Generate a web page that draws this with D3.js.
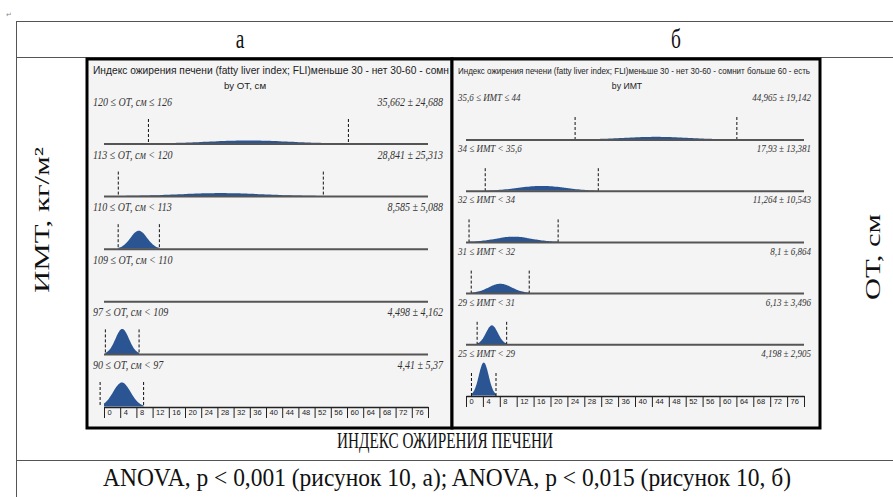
<!DOCTYPE html>
<html>
<head>
<meta charset="utf-8">
<script src="https://cdn.jsdelivr.net/npm/d3@7"></script>
<style>
  body { margin: 0; background: #fff; }
  svg { display: block; }
</style>
</head>
<body>
<div id="chart"></div>
<script>
// ---- data ----
const columnHeaders = ["а", "б"];
const rowLabelLeft = "ИМТ, кг/м²";
const rowLabelRight = "ОТ, см";
const bottomTitle = "ИНДЕКС ОЖИРЕНИЯ ПЕЧЕНИ";
const footNote = "ANOVA, p < 0,001 (рисунок 10, а);  ANOVA, p < 0,015 (рисунок 10, б)";
// left panel title is cut by the panel edge in the source
const panelTitleA = "Индекс ожирения печени (fatty liver index; FLI)меньше 30 - нет 30-60 - сомн";
const panelTitleB = "Индекс ожирения печени (fatty liver index; FLI)меньше 30 - нет 30-60 - сомнит больше 60 - есть";
const panelSubA = "by ОТ, см";
const panelSubB = "by ИМТ";

const groupsA = ["120 ≤ ОТ, см ≤ 126", "113 ≤ ОТ, см < 120", "110 ≤ ОТ, см < 113", "109 ≤ ОТ, см < 110", "97 ≤ ОТ, см < 109", "90 ≤ ОТ, см < 97"];
const meansA = [35.662, 28.841, 8.585, null, 4.498, 4.41];
const sdsA = [24.688, 25.313, 5.088, null, 4.162, 5.37];
const statsA = ["35,662 ± 24,688", "28,841 ± 25,313", "8,585 ± 5,088", "", "4,498 ± 4,162", "4,41 ± 5,37"];
const peaksA = [0.0125, 0.0125, 0.075, 0, 0.104, 0.1];

const groupsB = ["35,6 ≤ ИМТ ≤ 44", "34 ≤ ИМТ < 35,6", "32 ≤ ИМТ < 34", "31 ≤ ИМТ < 32", "29 ≤ ИМТ < 31", "25 ≤ ИМТ < 29"];
const meansB = [44.965, 17.93, 11.264, 8.1, 6.13, 4.198];
const sdsB = [19.142, 13.381, 10.543, 6.864, 3.496, 2.905];
const statsB = ["44,965 ± 19,142", "17,93 ± 13,381", "11,264 ± 10,543", "8,1 ± 6,864", "6,13 ± 3,496", "4,198 ± 2,905"];
const peaksB = [0.011, 0.02, 0.022, 0.039, 0.079, 0.1375];

const tickValues = [0, 4, 8, 12, 16, 20, 24, 28, 32, 36, 40, 44, 48, 52, 56, 60, 64, 68, 72, 76, 80];

// ---- layout ----
const W = 893, H = 497;
const svg = d3.select("#chart").append("svg").attr("width", W).attr("height", H);
svg.append("rect").attr("width", W).attr("height", H).attr("fill", "#fff");

const serif = "'Liberation Serif', 'Times New Roman', serif";
const sans = "'Liberation Sans', Arial, sans-serif";

// table lines
const table = svg.append("g").attr("stroke", "#555").attr("stroke-width", 1);
table.append("line").attr("x1", 16).attr("x2", W).attr("y1", 21.5).attr("y2", 21.5);
table.append("line").attr("x1", 16).attr("x2", W).attr("y1", 57.5).attr("y2", 57.5);
table.append("line").attr("x1", 16).attr("x2", W).attr("y1", 460.5).attr("y2", 460.5);
table.append("line").attr("x1", 16.5).attr("x2", 16.5).attr("y1", 21).attr("y2", H);

svg.append("text").attr("x", 6).attr("y", 17).attr("font-family", sans)
  .attr("font-size", 7).attr("fill", "#888").text("↵");

// stretched (tall, narrow) serif text like the source scan
svg.selectAll(".colhead").data(columnHeaders).enter().append("text")
  .attr("class", "colhead")
  .attr("transform", (d, i) => "translate(" + (i === 0 ? 240 : 676) + ",48) scale(0.72,1)")
  .attr("text-anchor", "middle").attr("font-family", serif).attr("font-size", 27)
  .attr("fill", "#111").text(d => d);

svg.append("text").attr("transform", "translate(49,220) rotate(-90)")
  .attr("text-anchor", "middle").attr("font-family", serif).attr("font-size", 21)
  .attr("textLength", 146).attr("lengthAdjust", "spacingAndGlyphs").attr("fill", "#111")
  .text(rowLabelLeft);
svg.append("text").attr("transform", "translate(880,257) rotate(-90)")
  .attr("text-anchor", "middle").attr("font-family", serif).attr("font-size", 21)
  .attr("textLength", 86).attr("lengthAdjust", "spacingAndGlyphs").attr("fill", "#111")
  .text(rowLabelRight);

svg.append("text").attr("transform", "translate(445,448) scale(1,1.15)").attr("text-anchor", "middle")
  .attr("font-family", serif).attr("font-size", 20).attr("fill", "#111")
  .attr("textLength", 216).attr("lengthAdjust", "spacingAndGlyphs").text(bottomTitle);
svg.append("text").attr("transform", "translate(447,486) scale(1,1.15)").attr("text-anchor", "middle")
  .attr("font-family", serif).attr("font-size", 22).attr("fill", "#111")
  .attr("textLength", 688).attr("lengthAdjust", "spacingAndGlyphs").text(footNote);

// ---- panels ----
function drawPanel(cfg) {
  const g = svg.append("g");
  const clipId = "clip" + cfg.id;
  svg.append("clipPath").attr("id", clipId).append("rect")
    .attr("x", cfg.x0).attr("y", cfg.y0).attr("width", cfg.x1 - cfg.x0).attr("height", cfg.y1 - cfg.y0);

  g.append("rect").attr("x", cfg.x0).attr("y", cfg.y0)
    .attr("width", cfg.x1 - cfg.x0).attr("height", cfg.y1 - cfg.y0).attr("fill", "#f4f4f4");

  const x = d3.scaleLinear().domain([0, 80]).range(cfg.xRange);
  const rowY = d3.scaleLinear().domain([0, cfg.groups.length - 1]).range(cfg.yRange);
  const h = d3.scaleLinear().domain([0, 0.1]).range([0, 24]);

  const inner = g.append("g").attr("clip-path", "url(#" + clipId + ")");
  inner.append("text").attr("x", cfg.x0 + 6).attr("y", cfg.y0 + 15)
    .attr("font-family", sans).attr("font-size", cfg.titleSize).attr("fill", "#222")
    .attr("textLength", cfg.titleLength).attr("lengthAdjust", "spacingAndGlyphs").text(cfg.title);
  inner.append("text").attr("x", cfg.subX).attr("y", cfg.y0 + 30).attr("text-anchor", "middle")
    .attr("font-family", sans).attr("font-size", cfg.titleSize - 0.3).attr("fill", "#222").text(cfg.sub);

  const area = d3.area().x(d => x(d[0])).y0(0).y1(d => -d[1]).curve(d3.curveBasis);

  cfg.groups.forEach((name, i) => {
    const yb = rowY(i);
    const row = inner.append("g");
    row.append("text")
      .attr("transform", "translate(" + (cfg.x0 + 6) + "," + (yb - cfg.labelOff) + ") scale(1,1.22)")
      .attr("font-family", serif).attr("font-style", "italic").attr("font-size", cfg.labelSize)
      .attr("fill", "#333").text(name);
    row.append("text")
      .attr("transform", "translate(" + (cfg.x1 - 9) + "," + (yb - cfg.labelOff) + ") scale(1,1.22)")
      .attr("text-anchor", "end")
      .attr("font-family", serif).attr("font-style", "italic").attr("font-size", cfg.labelSize)
      .attr("fill", "#333").text(cfg.stats[i]);

    const m = cfg.means[i], s = cfg.sds[i];
    if (m != null) {
      const sig = s / 2.5;
      const lo = Math.max(0, m - s), hi = m + s;
      const pts = d3.range(0, 61).map(k => {
        const v = lo + (hi - lo) * k / 60;
        return [v, h(cfg.peaks[i]) * Math.exp(-0.5 * Math.pow((v - m) / sig, 2))];
      });
      row.append("path").datum(pts).attr("transform", "translate(0," + (yb - 0.5) + ")")
        .attr("d", area).attr("fill", "#2a5592");
      [m - s, m + s].forEach(v => {
        row.append("line").attr("x1", x(v)).attr("x2", x(v))
          .attr("y1", yb - cfg.dashH).attr("y2", yb)
          .attr("stroke", "#111").attr("stroke-width", 1).attr("stroke-dasharray", "3,2");
      });
    }
    if (i < cfg.groups.length - 1) {
      row.append("line").attr("x1", x(0)).attr("x2", x(80)).attr("y1", yb).attr("y2", yb)
        .attr("stroke", "#555").attr("stroke-width", 2);
    }
  });

  // bottom axis
  const axis = inner.append("g").attr("transform", "translate(0," + cfg.yRange[1] + ")")
    .call(d3.axisBottom(x).tickValues(tickValues).tickSize(11).tickSizeOuter(0)
      .tickFormat(d => d === 80 ? "" : d));
  axis.select(".domain").attr("stroke", "#222").attr("stroke-width", 1.5);
  axis.selectAll(".tick line").attr("stroke", "#222");
  axis.selectAll(".tick text").attr("text-anchor", "start").attr("dx", 3).attr("y", 3)
    .attr("font-family", sans).attr("font-size", 7.5).attr("fill", "#222");

  g.append("rect").attr("x", cfg.x0).attr("y", cfg.y0)
    .attr("width", cfg.x1 - cfg.x0).attr("height", cfg.y1 - cfg.y0)
    .attr("fill", "none").attr("stroke", "#000").attr("stroke-width", 3);
}

drawPanel({
  id: "a", x0: 87, x1: 452, y0: 59, y1: 428,
  xRange: [104, 428], yRange: [144, 407],
  groups: groupsA, means: meansA, sds: sdsA, stats: statsA, peaks: peaksA,
  title: panelTitleA, sub: panelSubA, subX: 245, titleSize: 10, titleLength: 356,
  labelSize: 10, labelOff: 38, dashH: 25
});
drawPanel({
  id: "b", x0: 452, x1: 820, y0: 59, y1: 428,
  xRange: [466, 804], yRange: [140, 396],
  groups: groupsB, means: meansB, sds: sdsB, stats: statsB, peaks: peaksB,
  title: panelTitleB, sub: panelSubB, subX: 627, titleSize: 9, titleLength: 352,
  labelSize: 9, labelOff: 39, dashH: 23
});
</script>
</body>
</html>
